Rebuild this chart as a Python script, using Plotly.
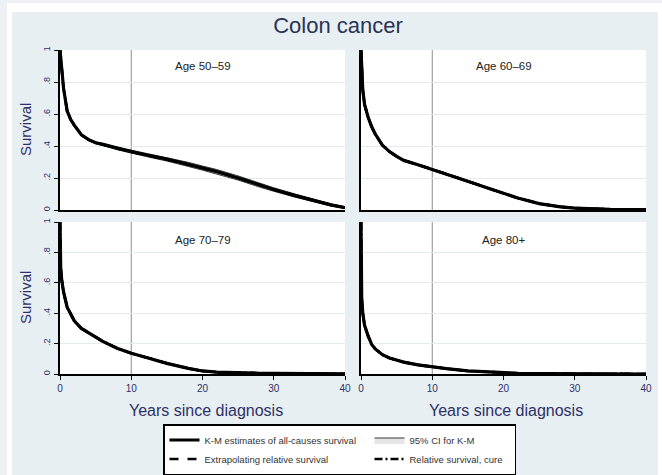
import plotly.graph_objects as go

# ---------------- data ----------------
years = [0, 0.1, 0.25, 0.5, 1, 1.5, 2, 3, 4, 5, 6, 8, 10, 12, 15, 18, 20, 22, 25, 28, 30, 33, 35, 38, 40]

panel_labels = ["Age 50–59", "Age 60–69", "Age 70–79", "Age 80+"]

km_50_59 = [1.0, 0.95, 0.89, 0.76, 0.62, 0.565, 0.53, 0.47, 0.44, 0.42, 0.41, 0.385, 0.365, 0.345, 0.318,
            0.285, 0.262, 0.24, 0.2, 0.155, 0.128, 0.09, 0.065, 0.032, 0.015]
km_60_69 = [1.0, 0.85, 0.75, 0.66, 0.58, 0.52, 0.475, 0.405, 0.365, 0.335, 0.31, 0.283, 0.254, 0.225, 0.18,
            0.133, 0.105, 0.075, 0.04, 0.02, 0.012, 0.006, 0.004, 0.003, 0.002]
km_70_79 = [1.0, 0.7, 0.615, 0.54, 0.44, 0.39, 0.35, 0.3, 0.272, 0.245, 0.215, 0.17, 0.137, 0.11, 0.07,
            0.037, 0.02, 0.012, 0.007, 0.005, 0.004, 0.003, 0.002, 0.002, 0.001]
km_80p = [1.0, 0.5, 0.4, 0.32, 0.25, 0.195, 0.165, 0.127, 0.105, 0.09, 0.078, 0.06, 0.047, 0.035, 0.02,
          0.012, 0.008, 0.005, 0.003, 0.002, 0.001, 0.001, 0.0005, 0.0003, 0.0]

ci_lo_50_59 = [1.0, 0.945, 0.885, 0.755, 0.615, 0.56, 0.525, 0.465, 0.435, 0.414, 0.403, 0.377, 0.356, 0.335,
               0.306, 0.272, 0.249, 0.227, 0.187, 0.143, 0.117, 0.08, 0.056, 0.025, 0.01]
ci_hi_50_59 = [1.0, 0.955, 0.895, 0.765, 0.625, 0.57, 0.535, 0.475, 0.445, 0.426, 0.417, 0.393, 0.374, 0.355,
               0.33, 0.298, 0.275, 0.253, 0.213, 0.167, 0.139, 0.1, 0.074, 0.039, 0.02]
ci_lo_60_69 = [1.0, 0.846, 0.746, 0.656, 0.576, 0.516, 0.471, 0.401, 0.361, 0.331, 0.306, 0.279, 0.249, 0.22,
               0.175, 0.128, 0.1, 0.07, 0.036, 0.017, 0.01, 0.005, 0.003, 0.002, 0.001]
ci_hi_60_69 = [1.0, 0.854, 0.754, 0.664, 0.584, 0.524, 0.479, 0.409, 0.369, 0.339, 0.314, 0.287, 0.259, 0.23,
               0.185, 0.138, 0.11, 0.08, 0.044, 0.023, 0.014, 0.008, 0.005, 0.004, 0.003]
ci_lo_70_79 = [1.0, 0.696, 0.611, 0.536, 0.436, 0.386, 0.346, 0.296, 0.268, 0.241, 0.211, 0.166, 0.133, 0.106,
               0.066, 0.034, 0.017, 0.01, 0.005, 0.004, 0.003, 0.002, 0.001, 0.001, 0.0]
ci_hi_70_79 = [1.0, 0.704, 0.619, 0.544, 0.444, 0.394, 0.354, 0.304, 0.276, 0.249, 0.219, 0.174, 0.141, 0.114,
               0.074, 0.04, 0.023, 0.014, 0.009, 0.006, 0.005, 0.004, 0.003, 0.003, 0.002]
ci_lo_80p = [1.0, 0.495, 0.395, 0.315, 0.245, 0.19, 0.16, 0.122, 0.1, 0.086, 0.074, 0.056, 0.043, 0.031,
             0.017, 0.009, 0.006, 0.003, 0.002, 0.001, 0.0, 0.0, 0.0, 0.0, 0.0]
ci_hi_80p = [1.0, 0.505, 0.405, 0.325, 0.255, 0.2, 0.17, 0.132, 0.11, 0.094, 0.082, 0.064, 0.051, 0.039,
             0.023, 0.015, 0.01, 0.007, 0.004, 0.003, 0.002, 0.002, 0.001, 0.001, 0.0]

# extrapolated relative survival and relative-survival cure model overlap the K-M curve
extrap_50_59, cure_50_59 = km_50_59, km_50_59
extrap_60_69, cure_60_69 = km_60_69, km_60_69
extrap_70_79, cure_70_79 = km_70_79, km_70_79
extrap_80p, cure_80p = km_80p, km_80p

x_ticks = [0, 10, 20, 30, 40]
y_ticks = [0, 0.2, 0.4, 0.6, 0.8, 1]
y_ticktext = ["0", ".2", ".4", ".6", ".8", "1"]

legend_names = ["K-M estimates of all-causes survival", "95% CI for K-M",
                "Extrapolating relative survival", "Relative survival, cure"]

panels = [
    (km_50_59, ci_lo_50_59, ci_hi_50_59, extrap_50_59, cure_50_59),
    (km_60_69, ci_lo_60_69, ci_hi_60_69, extrap_60_69, cure_60_69),
    (km_70_79, ci_lo_70_79, ci_hi_70_79, extrap_70_79, cure_70_79),
    (km_80p, ci_lo_80p, ci_hi_80p, extrap_80p, cure_80p),
]

# ---------------- layout geometry ----------------
W, H = 662, 475
ML, MR, MT, MB = 60, 16, 50, 101
PW, PH = W - ML - MR, H - MT - MB


def px(xp):
    return (xp - ML) / PW


def py(yp):
    return (H - MB - yp) / PH


x_domains = [[0, px(345)], [px(361), 1]]
y_domains = [[py(210), 1], [0, py(222)]]

NAVY = "#2d2f66"
FONT = "Liberation Sans"

fig = go.Figure()

axis_ids = ["", "2", "3", "4"]
for i, (km, lo, hi, ex, cu) in enumerate(panels):
    xa = "x" + axis_ids[i]
    ya = "y" + axis_ids[i]
    first = i == 0
    fig.add_trace(go.Scatter(
        x=years + years[::-1], y=hi + lo[::-1], fill="toself", fillcolor="#e6e6e6",
        line=dict(color="#222222", width=0.9), name=legend_names[1], legendgroup="ci",
        showlegend=first, legendrank=2, legendwidth=100, xaxis=xa, yaxis=ya, hoverinfo="skip"))
    fig.add_trace(go.Scatter(
        x=years, y=km, mode="lines", line=dict(color="black", width=3.2),
        name=legend_names[0], legendgroup="km", showlegend=first, legendrank=1, legendwidth=160,
        xaxis=xa, yaxis=ya))
    fig.add_trace(go.Scatter(
        x=years, y=ex, mode="lines", line=dict(color="black", width=2.6, dash="dash"),
        name=legend_names[2], legendgroup="ex", showlegend=first, legendrank=3, legendwidth=160,
        xaxis=xa, yaxis=ya))
    fig.add_trace(go.Scatter(
        x=years, y=cu, mode="lines", line=dict(color="black", width=2.6, dash="8px,3px,2px,3px"),
        name=legend_names[3], legendgroup="cu", showlegend=first, legendrank=4, legendwidth=100,
        xaxis=xa, yaxis=ya))

layout_axes = {}
for i in range(4):
    col, row = i % 2, i // 2
    xname = "xaxis" + axis_ids[i]
    yname = "yaxis" + axis_ids[i]
    bottom = row == 1
    left = col == 0
    layout_axes[xname] = dict(
        domain=x_domains[col], range=[0, 40], anchor="y" + axis_ids[i],
        showline=True, linecolor="black", linewidth=2, showgrid=False, zeroline=False,
        tickvals=x_ticks, ticks="outside" if bottom else "", ticklen=4, tickwidth=1.2, tickcolor="black",
        showticklabels=bottom, tickfont=dict(family=FONT, size=10, color=NAVY), fixedrange=True)
    layout_axes[yname] = dict(
        domain=y_domains[row], range=[0, 1], anchor="x" + axis_ids[i],
        showline=True, linecolor="black", linewidth=2, showgrid=True, gridcolor="#e2ebef", gridwidth=1,
        zeroline=False, tickvals=y_ticks, ticktext=y_ticktext, tickangle=-90,
        ticks="outside" if left else "", ticklen=4, tickwidth=1.2, tickcolor="black",
        showticklabels=left, tickfont=dict(family=FONT, size=9, color=NAVY), fixedrange=True)

fig.update_layout(**layout_axes)

# reference line at 10 years in each panel
shapes = []
for i in range(4):
    shapes.append(dict(type="line", xref="x" + axis_ids[i], yref="y" + axis_ids[i] + " domain",
                       x0=10, x1=10, y0=0, y1=1, line=dict(color="#8c8c8c", width=1), layer="below"))

# outer page frame
frame = [((0, 0), (W, 3), "#eef1f4"), ((0, 0), (7, H), "#eef1f4"),
         ((7, 3), (W, 12), "#ffffff"), ((7, 3), (12, H), "#ffffff"), ((658, 3), (W, H), "#ffffff")]
for (x0, y0), (x1, y1), c in frame:
    shapes.append(dict(type="rect", xref="paper", yref="paper", x0=px(x0), x1=px(x1), y0=py(y1), y1=py(y0),
                       fillcolor=c, line=dict(width=0), layer="above"))

annotations = []
label_pos = [(20, 0.9), (20, 0.9), (20, 0.88), (20, 0.88)]
for i, lab in enumerate(panel_labels):
    annotations.append(dict(text=lab, xref="x" + axis_ids[i], yref="y" + axis_ids[i],
                            x=label_pos[i][0], y=label_pos[i][1], showarrow=False,
                            font=dict(family=FONT, size=11.5, color="#222222")))
# axis titles
for yc in (130, 298):
    annotations.append(dict(text="Survival", xref="paper", yref="paper", x=px(25), y=py(yc),
                            textangle=-90, showarrow=False, xanchor="center", yanchor="middle",
                            font=dict(family=FONT, size=15, color=NAVY)))
for xc in (206, 506):
    annotations.append(dict(text="Years since diagnosis", xref="paper", yref="paper", x=px(xc), y=py(410),
                            showarrow=False, xanchor="center", yanchor="middle",
                            font=dict(family=FONT, size=16, color=NAVY)))

fig.update_layout(
    width=W, height=H, margin=dict(l=ML, r=MR, t=MT, b=MB, autoexpand=False),
    paper_bgcolor="#e8eff2", plot_bgcolor="#ffffff",
    title=dict(text="Colon cancer", x=338 / W, y=1 - 25 / H, xanchor="center", yanchor="middle",
               font=dict(family=FONT, size=22, color="#2a3352")),
    shapes=shapes, annotations=annotations,
    showlegend=True,
    legend=dict(orientation="h", x=px(163), y=py(424), xanchor="left", yanchor="top",
                bgcolor="#ffffff", bordercolor="black", borderwidth=1.5,
                font=dict(family=FONT, size=9.5, color="#333333"),
                entrywidth=160, entrywidthmode="pixels", traceorder="normal", itemwidth=30,
                tracegroupgap=0),
    hovermode=False,
)

fig.write_html("out.html")
